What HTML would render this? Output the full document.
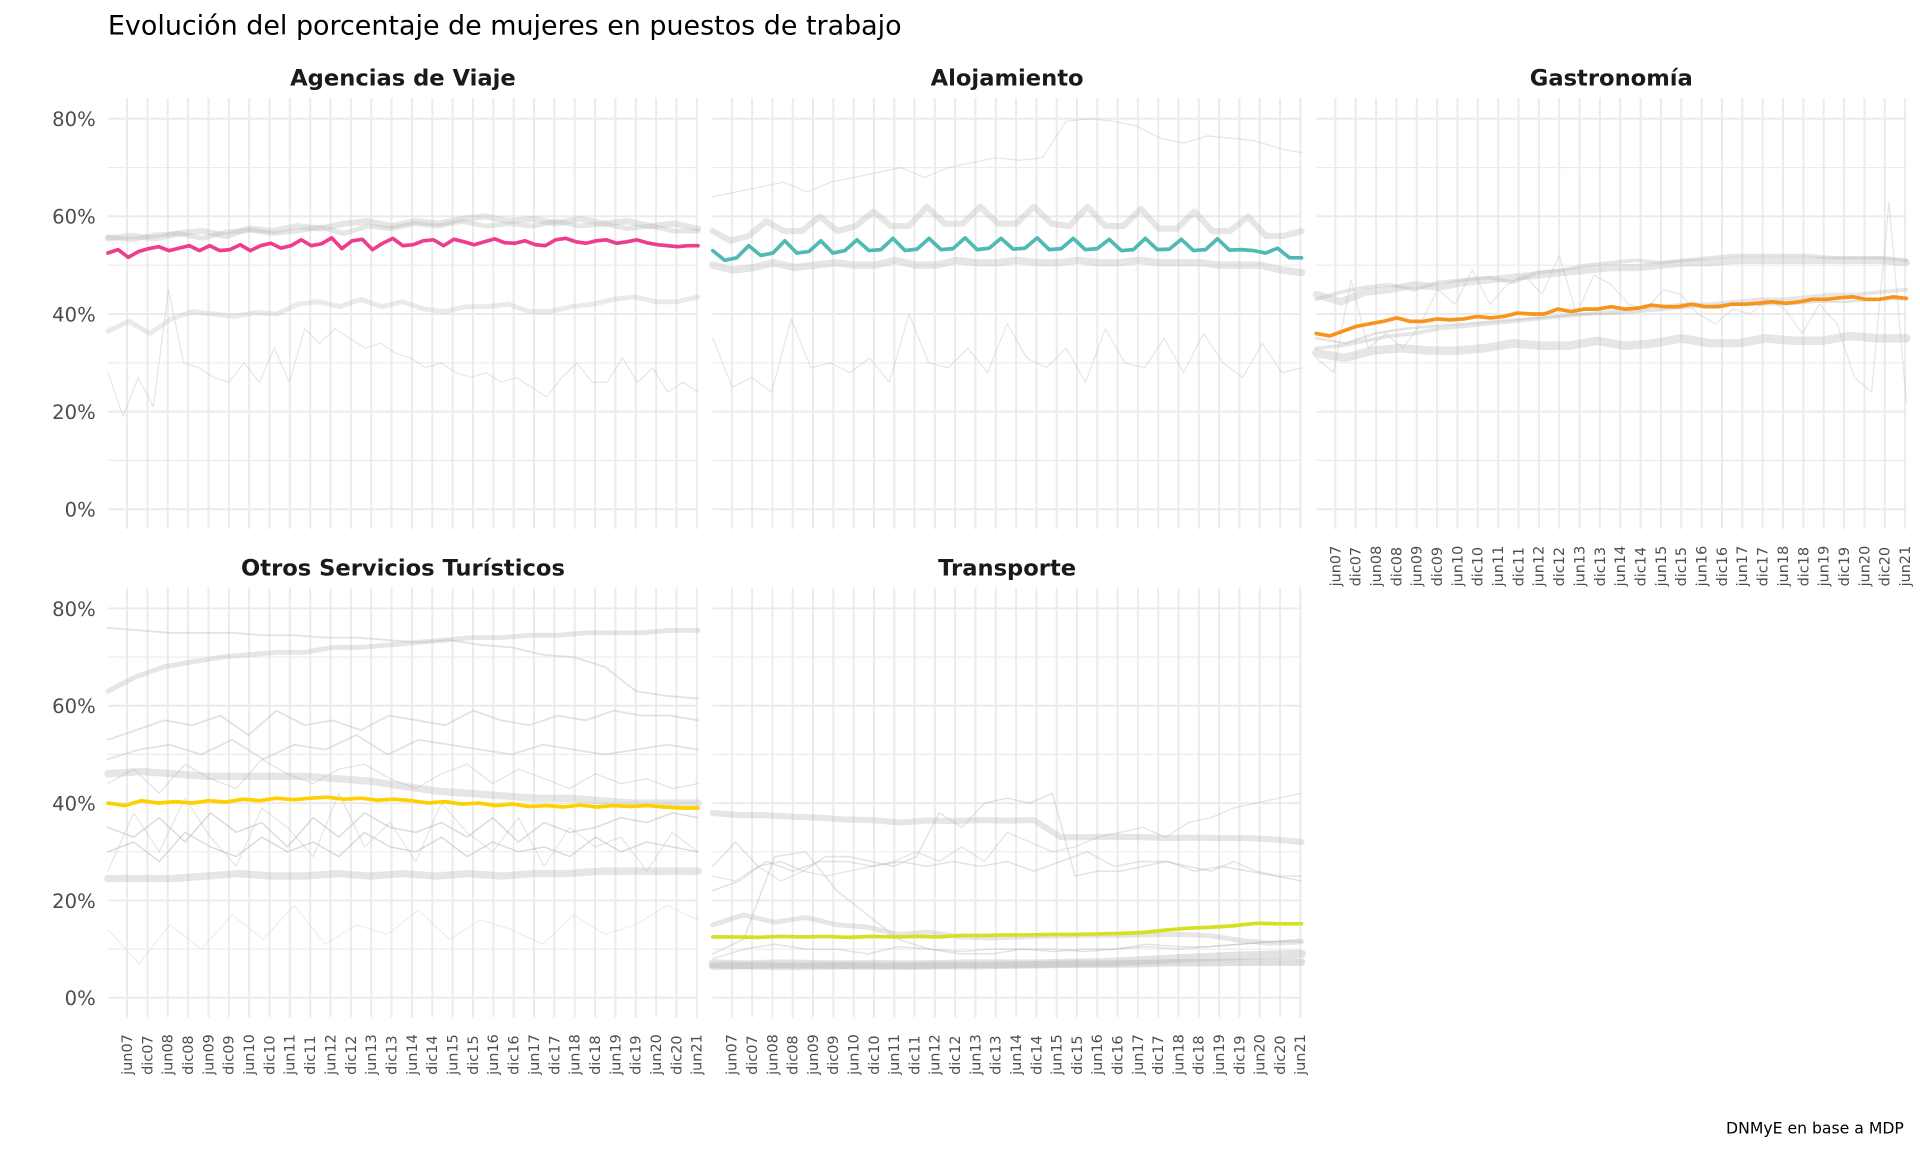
<!DOCTYPE html>
<html><head><meta charset="utf-8">
<style>
html,body{margin:0;padding:0;background:#fff;}
svg{display:block;font-family:"DejaVu Sans","Liberation Sans",sans-serif;}
</style></head>
<body>
<svg id="chart" width="1920" height="1152" viewBox="0 0 1568 941" xmlns="http://www.w3.org/2000/svg">
<text x="88" y="28" font-size="22" fill="#000">Evolución del porcentaje de mujeres en puestos de trabajo</text>
<text x="1555" y="926" font-size="12.8" fill="#000" text-anchor="end">DNMyE en base a MDP</text>
<g id="layer"></g>
</svg>
<script>
// ---- data (values in %, evenly spaced from early 2007 to mid 2021) ----
const tickLabels = ["jun07","dic07","jun08","dic08","jun09","dic09","jun10","dic10","jun11","dic11","jun12","dic12","jun13","dic13","jun14","dic14","jun15","dic15","jun16","dic16","jun17","dic17","jun18","dic18","jun19","dic19","jun20","dic20","jun21"];
const yTicks = [0,20,40,60,80];
const panelNames = ["Agencias de Viaje","Alojamiento","Gastronomía","Otros Servicios Turísticos","Transporte"];

const agenciasMain = [52.5,53.2,51.6,52.8,53.4,53.8,53,53.5,54,53,54,53,53.2,54.2,53,54,54.5,53.5,54,55.2,54,54.4,55.6,53.4,55,55.3,53.2,54.5,55.5,54,54.2,55,55.2,54,55.3,54.8,54.2,54.8,55.4,54.6,54.5,55,54.2,54,55.2,55.5,54.8,54.5,55,55.2,54.5,54.8,55.2,54.6,54.2,54,53.8,54,54];
const agenciasG1 = [55.5,56,55.5,56.5,57,56,57.5,57,58,57.5,58.5,59,58,59,58.5,59.5,60,59,59.5,58.5,59.5,58.5,59,58,58.5,57.5];
const agenciasG2 = [55.8,55.2,56.2,56.5,55.5,56.8,57.2,56.5,57,57.8,56.5,58,57.5,58.5,58,59,58,58.5,58,59,58,58.5,57.5,58,57,57];
const agenciasG3 = [36.5,38.5,36,39,40.5,40,39.5,40.3,40,42,42.5,41.5,43,41.5,42.5,41,40.5,41.5,41.5,42,40.5,40.5,41.5,42,43,43.5,42.5,42.5,43.5];
const agenciasG4 = [28,19,27,21,45,30,29,27,26,30,26,33,26,37,34,37,35,33,34,32,31,29,30,28,27,28,26,27,25,23,27,30,26,26,31,26,29,24,26,24];

const alojMain = [53,51,51.5,54,52,52.5,55,52.5,52.8,55,52.5,53,55.2,53,53.2,55.5,53,53.3,55.5,53.2,53.4,55.6,53.2,53.5,55.5,53.3,53.5,55.6,53.2,53.4,55.5,53.2,53.4,55.3,53,53.2,55.5,53.2,53.3,55.3,53,53.2,55.4,53.1,53.2,53,52.5,53.5,51.5,51.5];
const alojG1 = [57,55,56,59,57,57,60,57,58,61,58,58,62,58.5,58.5,62,58.5,58.5,62,58.5,58,62,58,58,61.5,57.5,57.5,61,57,57,60,56,56,57];
const alojG2 = [50,49,49.5,50.5,49.5,50,50.5,50,50,51,50,50,51,50.5,50.5,51,50.5,50.5,51,50.5,50.5,51,50.5,50.5,50.5,50,50,50,49,48.5];
const alojG3 = [64,65,66,67,65,67,68,69,70,68,70,71,72,71.5,72,79.5,80,79.5,78.5,76,75,76.5,76,75.5,74,73];
const alojG4 = [35,25,27,24,39,29,30,28,31,26,40,30,29,33,28,38,31,29,33,26,37,30,29,35,28,36,30,27,34,28,29];

const gastroMain = [36,35.5,36.5,37.5,38,38.5,39.2,38.5,38.5,39,38.8,39,39.5,39.2,39.5,40.2,40,40,41,40.5,41,41,41.5,41,41.2,41.8,41.5,41.5,42,41.5,41.5,42,42,42.2,42.5,42.2,42.5,43,43,43.3,43.5,43,43,43.5,43.2];
const gastroG1 = [44,42.5,44.5,45,46,45.5,46.5,47,47.5,48,48.5,49,49.5,49.5,50,50.5,50.5,51,51,51,51,51,51,51,50.5];
const gastroG2 = [43,44.5,45.5,46,45,46.5,47,47.5,46.5,48.5,49,50,50.5,51,50.5,51,51.5,52,52,52,52,51.5,51.5,51.5,51];
const gastroG3 = [33,33.5,34.5,35.5,36,37,37.5,38,38.5,39,39.5,40,40.5,41,41.5,42,42,42.5,43,43,43.5,44,44,44.5,45];
const gastroG4 = [32,31,32.5,33,32.5,32.5,33,34,33.5,33.5,34.5,33.5,34,35,34,34,35,34.5,34.5,35.5,35,35];
const gastroG5 = [35,34,36,37,37.5,38,38.5,39,39.5,40,40,40.5,41,41.5,42,42,42,42.5,42.5,43,43];
const gastroG6 = [31,28,47,33,36,33,38,45,42,49,42,46,48,44,52,40,48,46,42,41,45,44,40,38,41,40,43,41,36,42,38,27,24,63,22];

const otrosMain = [40,39.5,40.5,40,40.3,40,40.5,40.2,40.8,40.5,41,40.7,41,41.2,40.8,41,40.6,40.8,40.5,40,40.3,39.8,40,39.5,39.8,39.3,39.5,39.2,39.6,39.2,39.5,39.3,39.5,39.2,39,39];
const otrosG1 = [63,66,68,69,70,70.5,71,71,72,72,72.5,73,73.5,74,74,74.5,74.5,75,75,75,75.5,75.5];
const otrosG2 = [76,75.5,75,75,75,74.5,74.5,74,74,73.5,73,73.5,72.5,72,70.5,70,68,63,62,61.5];
const otrosG3 = [46,46.5,46,45.5,45.5,45.5,45.5,45,44.5,43.5,42.5,42,41.5,41,41,40.5,40,40,40];
const otrosG4 = [24.5,24.5,24.5,25,25.5,25,25,25.5,25,25.5,25,25.5,25,25.5,25.5,26,26,26,26];
const otrosG5 = [53,55,57,56,58,54,59,56,57,55,58,57,56,59,57,56,58,57,59,58,58,57];
const otrosG6 = [49,51,52,50,53,49,52,51,54,50,53,52,51,50,52,51,50,51,52,51];
const otrosG7 = [35,33,37,32,38,34,36,31,37,33,38,35,34,36,33,37,32,36,34,35,37,36,38,37];
const otrosG8 = [30,32,28,34,31,29,33,30,32,29,34,31,30,33,29,32,30,31,29,33,30,32,31,30];
const otrosG9 = [44,47,42,48,45,43,49,46,44,47,48,45,43,46,48,44,47,45,43,46,44,45,43,44];
const otrosG10 = [14,7,15,10,17,12,19,11,15,13,18,12,16,14,11,17,13,15,19,16];
const otrosG11 = [26,38,30,41,33,27,39,35,29,42,31,36,28,40,34,30,37,27,35,31,33,26,34,30];

const transMain = [12.5,12.5,12.4,12.6,12.5,12.6,12.4,12.6,12.5,12.6,12.5,12.8,12.8,12.9,12.9,13,13,13.1,13.2,13.4,13.9,14.3,14.5,14.8,15.3,15.2,15.2];
const transG1 = [38,37.5,37.5,37.2,37,36.6,36.5,36,36.4,36.3,36.5,36.4,36.5,33,33,33.1,33,32.8,32.9,32.8,32.8,32.5,32];
const transG2 = [7,6.8,7,6.9,6.8,6.9,6.8,6.9,7,7,7,7.2,7.3,7.6,8,8.3,8.6,8.8,9];
const transG3 = [6.5,6.6,6.5,6.5,6.6,6.5,6.5,6.6,6.6,6.7,6.8,6.9,6.9,7,7.2,7.2,7.3,7.3,7.3];
const transG4 = [15,17,15.5,16.5,15,14.5,13,13.5,12.5,12.3,12.5,12.7,12.8,12.8,12.9,13,12.8,11.8,11.2,11.5];
const transG5 = [27,32,27,28,26,29,29,28,27,29,38,35,40,41,40,42,25,26,26,27,28,27,26,28,26,25,25];
const transG6 = [25,24,27,24,26,25,26,27,28,30,28,31,28,34,32,30,31,33,34,35,33,36,37,39,40,41,42];
const transG7 = [22,24,28,26,28,28,27,28,27,28,27,28,26,28,30,27,28,28,26,27,26,25,24];
const transG8 = [8,10,11,10,10,9,10.5,10,9.5,10,10,10,9.5,10,10.5,10,10.5,11,11.5,11.5];
const transG9 = [9,12,29,30,22,17,12,10,9,9,10,9.5,10,10,11,10.5,10.5,11,11.5,12];

// ---- layout ----
const NS = "http://www.w3.org/2000/svg";
const layer = document.getElementById("layer");
function el(tag, attrs, parent){const e=document.createElementNS(NS,tag);for(const k in attrs)e.setAttribute(k,attrs[k]);(parent||layer).appendChild(e);return e;}

const T0 = 2006.95, T1 = 2021.45;
const panels = [
 {x0:88,x1:570,yTop:80,yBot:432,y0:416,y80:97,labels:false},
 {x0:582,x1:1063,yTop:80,yBot:432,y0:416,y80:97,labels:false},
 {x0:1075,x1:1557,yTop:80,yBot:432,y0:416,y80:97,labels:true},
 {x0:88,x1:570,yTop:480,yBot:831,y0:815,y80:497,labels:true},
 {x0:582,x1:1063,yTop:480,yBot:831,y0:815,y80:497,labels:true}
];
const gray = "#b8b8b8";
const panelSeries = [
 [[agenciasG1,5,0.35],[agenciasG2,4,0.35],[agenciasG3,4,0.3],[agenciasG4,1,0.35],[agenciasMain,3,1,"#ee3d8f"]],
 [[alojG1,5,0.35],[alojG2,6,0.35],[alojG3,1,0.35],[alojG4,1,0.35],[alojMain,3,1,"#4fbab1"]],
 [[gastroG1,6,0.35],[gastroG2,3,0.35],[gastroG3,3,0.35],[gastroG4,7,0.35],[gastroG5,2,0.4],[gastroG6,1,0.35],[gastroMain,3,1,"#f7941d"]],
 [[otrosG1,4,0.35],[otrosG2,1.5,0.4],[otrosG3,6,0.35],[otrosG4,6,0.35],[otrosG5,1.5,0.4],[otrosG6,1.5,0.4],[otrosG7,1.2,0.5],[otrosG8,1.2,0.5],[otrosG9,1,0.4],[otrosG10,0.8,0.3],[otrosG11,1,0.35],[otrosMain,3,1,"#ffd000"]],
 [[transG1,5,0.35],[transG2,7,0.4],[transG3,6,0.45],[transG4,4,0.35],[transG5,1.2,0.4],[transG6,1,0.4],[transG7,1.2,0.4],[transG8,1.2,0.4],[transG9,1.2,0.4],[transMain,3,1,"#d5e022"]]
];

panels.forEach((p,pi)=>{
  const g = el("g",{});
  
  
  const xs = t => p.x0 + (t - T0) / (T1 - T0) * (p.x1 - p.x0);
  const ys = v => p.y0 - v / 80 * (p.y0 - p.y80);
  for (let v=0; v<=80; v+=10){
    const l = el("line",{x1:p.x0,x2:p.x1,y1:ys(v),y2:ys(v),stroke:"#ebebeb","stroke-width":v%20===0?1.6:0.9},g);
    
    
  }
  tickLabels.forEach((lab,i)=>{
    const t = 2007.42 + i*0.5;
    const x = xs(t);
    const l = el("line",{x1:x,x2:x,y1:p.yTop,y2:p.yBot,stroke:"#ebebeb","stroke-width":1.6},g);
    
    
    if (p.labels){
      const tx = el("text",{transform:`translate(${x+4},${p.yBot+47}) rotate(-90)`,"font-size":"11.8","fill":"#4d4d4d"},g);
      tx.textContent = lab;
      
      
    }
  });
  if (pi===0 || pi===3){
    yTicks.forEach(v=>{
      const tx = el("text",{x:p.x0-10,y:ys(v)+6,"font-size":"16","fill":"#4d4d4d","text-anchor":"end"},g);
      tx.textContent = v + "%";
      
      
    });
  }
  const st = el("text",{x:(p.x0+p.x1)/2,y:p.yTop-10,"font-size":"18.5","font-weight":"bold","fill":"#1a1a1a","text-anchor":"middle"},g);
  st.textContent = panelNames[pi];
  
  
  panelSeries[pi].forEach((s,si)=>{
    const arr = s[0], n = arr.length;
    const pts = arr.map((v,i)=> xs(T0 + i/(n-1)*(T1-T0)).toFixed(1) + "," + ys(v).toFixed(1)).join(" ");
    const line = el("polyline",{points:pts,fill:"none",stroke:s[3]||gray,"stroke-width":s[1],"stroke-opacity":s[2],"stroke-linejoin":"round","stroke-linecap":"round"},g);
    
    
  });
});
</script>
</body></html>
